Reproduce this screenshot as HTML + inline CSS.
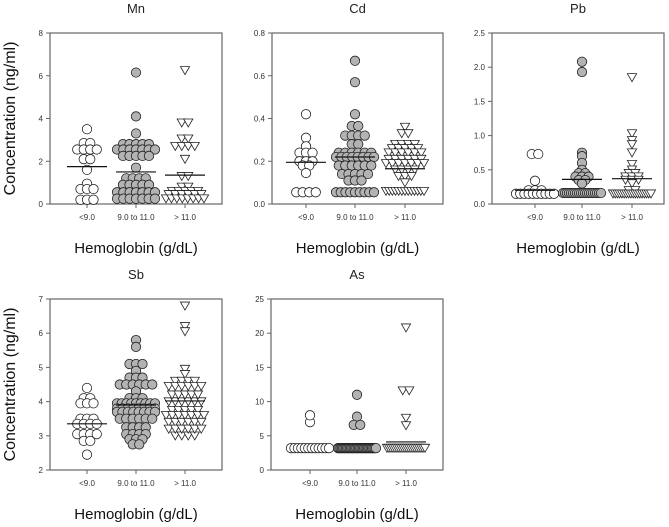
<!DOCTYPE html>
<html><head><meta charset="utf-8"><style>
body{margin:0;background:#fff;}
svg{display:block;font-family:"Liberation Sans",Arial,sans-serif;}
</style></head><body>
<svg id="chart" width="669" height="527" viewBox="0 0 669 527"></svg>
<script>
const categories = ["<9.0", "9.0 to 11.0", "> 11.0"];
const mnLow = [3.5,2.85,2.85,2.55,2.55,2.55,2.55,2.1,2.1,1.6,0.95,0.7,0.7,0.7,0.2,0.2,0.2];
const mnMid = [6.15,4.1,3.3,2.8,2.8,2.8,2.8,2.8,2.55,2.55,2.55,2.55,2.55,2.55,2.55,2.25,2.25,2.25,2.25,2.25,1.7,1.2,1.2,1.2,1.2,0.9,0.9,0.9,0.9,0.9,0.55,0.55,0.55,0.55,0.55,0.55,0.55,0.25,0.25,0.25,0.25,0.25,0.25,0.25];
const mnHigh = [6.25,3.8,3.8,3.05,3.05,2.7,2.7,2.7,2.7,2.1,1.3,1.3,0.8,0.8,0.6,0.6,0.6,0.6,0.6,0.45,0.45,0.45,0.45,0.45,0.45,0.25,0.25,0.25,0.25,0.25,0.25,0.25,0.25];
const mnMeans = [1.75,1.5,1.35];
const cdLow = [0.42,0.31,0.27,0.24,0.24,0.24,0.2,0.2,0.2,0.18,0.18,0.145,0.055,0.055,0.055,0.055];
const cdMid = [0.67,0.57,0.42,0.365,0.365,0.32,0.32,0.32,0.32,0.28,0.28,0.24,0.24,0.24,0.24,0.24,0.24,0.22,0.22,0.22,0.22,0.22,0.22,0.22,0.22,0.18,0.18,0.18,0.18,0.18,0.18,0.14,0.14,0.14,0.14,0.14,0.11,0.11,0.11,0.055,0.055,0.055,0.055,0.055,0.055,0.055,0.055,0.055];
const cdHigh = [0.36,0.33,0.33,0.28,0.28,0.28,0.28,0.26,0.26,0.26,0.26,0.26,0.24,0.24,0.24,0.24,0.24,0.24,0.21,0.21,0.21,0.21,0.21,0.21,0.19,0.19,0.19,0.19,0.19,0.19,0.19,0.16,0.16,0.16,0.16,0.13,0.13,0.13,0.1,0.06,0.06,0.06,0.06,0.06,0.06,0.06,0.06,0.06,0.06,0.06,0.06,0.06];
const cdMeans = [0.195,0.22,0.165];
const pbLow = [0.73,0.73,0.34,0.2,0.2,0.2,0.15,0.15,0.15,0.15,0.15,0.15,0.15,0.15,0.15,0.15];
const pbMid = [2.08,1.93,0.75,0.7,0.6,0.5,0.45,0.45,0.4,0.4,0.4,0.35,0.35,0.3,0.16,0.16,0.16,0.16,0.16,0.16,0.16,0.16,0.16,0.16,0.16,0.16,0.16,0.16,0.16,0.16,0.16,0.16,0.16,0.16];
const pbHigh = [1.85,1.03,0.93,0.87,0.75,0.58,0.5,0.45,0.45,0.4,0.4,0.4,0.35,0.35,0.35,0.3,0.2,0.2,0.15,0.15,0.15,0.15,0.15,0.15,0.15,0.15,0.15,0.15,0.15,0.15,0.15,0.15,0.15,0.15,0.15,0.15];
const pbMeans = [0.2,0.36,0.37];
const sbLow = [4.4,4.1,4.1,3.95,3.95,3.95,3.5,3.5,3.5,3.35,3.35,3.35,3.35,3.05,3.05,3.05,3.05,2.85,2.85,2.45];
const sbMid = [5.8,5.6,5.1,5.1,5.1,4.9,4.7,4.7,4.7,4.5,4.5,4.5,4.5,4.5,4.5,4.3,4.1,4.1,4.1,3.95,3.95,3.95,3.95,3.95,3.95,3.95,3.95,3.95,3.8,3.8,3.8,3.8,3.8,3.8,3.8,3.8,3.7,3.7,3.7,3.7,3.7,3.7,3.7,3.7,3.5,3.5,3.5,3.5,3.5,3.5,3.25,3.25,3.25,3.25,3.05,3.05,3.05,3.05,2.9,2.9,2.9,2.75,2.75];
const sbHigh = [6.8,6.2,6.05,4.95,4.8,4.6,4.6,4.6,4.6,4.45,4.45,4.45,4.45,4.45,4.45,4.2,4.2,4.2,4.2,4.2,4.0,4.0,4.0,4.0,4.0,4.0,3.75,3.75,3.75,3.75,3.75,3.6,3.6,3.6,3.6,3.6,3.6,3.6,3.4,3.4,3.4,3.4,3.4,3.4,3.2,3.2,3.2,3.2,3.2,3.2,3.0,3.0,3.0,3.0];
const sbMeans = [3.35,3.9,4.02];
const asLow = [8,7,3.2,3.2,3.2,3.2,3.2,3.2,3.2,3.2,3.2,3.2,3.2,3.2];
const asMid = [11,7.8,6.6,6.6,3.2,3.2,3.2,3.2,3.2,3.2,3.2,3.2,3.2,3.2,3.2,3.2,3.2,3.2,3.2,3.2,3.2,3.2,3.2,3.2,3.2,3.2,3.2,3.2,3.2,3.2,3.2,3.2,3.2,3.2];
const asHigh = [20.8,11.6,11.6,7.6,6.5,3.2,3.2,3.2,3.2,3.2,3.2,3.2,3.2,3.2,3.2,3.2,3.2,3.2,3.2,3.2,3.2,3.2,3.2,3.2,3.2];
const asMeans = [null,null,4.1];
const mnTicks = [0,2,4,6,8], mnTickLabels = ["0","2","4","6","8"];
const cdTicks = [0,0.2,0.4,0.6,0.8], cdTickLabels = ["0.0","0.2","0.4","0.6","0.8"];
const pbTicks = [0,0.5,1,1.5,2,2.5], pbTickLabels = ["0.0","0.5","1.0","1.5","2.0","2.5"];
const sbTicks = [2,3,4,5,6,7], sbTickLabels = ["2","3","4","5","6","7"];
const asTicks = [0,5,10,15,20,25], asTickLabels = ["0","5","10","15","20","25"];

const NS = "http://www.w3.org/2000/svg";
const svg = document.getElementById("chart");
function mk(tag, attrs, parent, text){
  const e = document.createElementNS(NS, tag);
  for (const k in attrs) e.setAttribute(k, attrs[k]);
  if (text !== undefined) e.textContent = text;
  (parent || svg).appendChild(e);
  return e;
}
function panel(p){
  const g = mk("g", {});
  
  
  const [x0,x1,y0,y1] = p.box;
  const lo = p.ticks[0], hi = p.ticks[p.ticks.length-1];
  const yS = v => y1 - (v - lo) / (hi - lo) * (y1 - y0);
  const t = mk("text", {x:(x0+x1)/2, y:y0-20, "text-anchor":"middle", "font-size":13, fill:"#222"}, g, p.title);
  
  
  const frame = mk("rect", {x:x0, y:y0, width:x1-x0, height:y1-y0, fill:"none", stroke:"#666", "stroke-width":1.2}, g);
  
  
  p.ticks.forEach((v,i)=>{
    const y = yS(v);
    mk("line", {x1:x0-4, x2:x0, y1:y, y2:y, stroke:"#666"}, g);
    const tl = mk("text", {x:x0-7, y:y+3, "text-anchor":"end", "font-size":8, fill:"#333"}, g, p.tickLabels[i]);
    
    
  });
  const groups = [p.low, p.mid, p.high];
  categories.forEach((c,i)=>{
    const cx = p.cx[i];
    mk("line", {x1:cx, x2:cx, y1:y1, y2:y1+4, stroke:"#666"}, g);
    const xl = mk("text", {x:cx, y:y1+16, "text-anchor":"middle", "font-size":8, fill:"#333"}, g, c);
    
    
    const rows = {};
    groups[i].forEach(v => { (rows[v] = rows[v] || []).push(v); });
    Object.keys(rows).forEach(k => {
      const n = rows[k].length, v = +k, y = yS(v);
      const sp = n > 1 ? Math.min(6.5, 38/(n-1)) : 0;
      rows[k].forEach((_,j) => {
        const x = cx + (j - (n-1)/2) * sp;
        let m;
        if (i === 2) {
          m = mk("path", {d:`M${x-4.6},${y-3.8}L${x+4.6},${y-3.8}L${x},${y+4.2}Z`, fill:"#fff", stroke:"#222", "stroke-width":0.8}, g);
        } else {
          m = mk("circle", {cx:x, cy:y, r:4.7, fill: i===0 ? "#fff" : "#b3b3b3", stroke:"#222", "stroke-width":0.8}, g);
        }
        
        
      });
    });
    if (p.means[i] !== null) {
      const ym = yS(p.means[i]);
      const ml = mk("line", {x1:cx-20, x2:cx+20, y1:ym, y2:ym, stroke:"#111", "stroke-width":1.2}, g);
      
      
    }
  });
  const xt = mk("text", {x:(x0+x1)/2, y:y1+49, "text-anchor":"middle", "font-size":15, fill:"#111"}, g, "Hemoglobin (g/dL)");
  
  
  if (p.ytitle) {
    const yc = (y0+y1)/2;
    const yt = mk("text", {x:15, y:yc, "text-anchor":"middle", "font-size":16, fill:"#111", transform:`rotate(-90 15 ${yc})`}, g, "Concentration (ng/ml)");
    
    
  }
}
panel({name:"mn", title:"Mn", box:[50,222,33,204], cx:[87,136,185], ticks:mnTicks, tickLabels:mnTickLabels, low:mnLow, mid:mnMid, high:mnHigh, means:mnMeans, ytitle:true});
panel({name:"cd", title:"Cd", box:[272,443,33,204], cx:[306,355,405], ticks:cdTicks, tickLabels:cdTickLabels, low:cdLow, mid:cdMid, high:cdHigh, means:cdMeans});
panel({name:"pb", title:"Pb", box:[492,664,33,204], cx:[535,582,632], ticks:pbTicks, tickLabels:pbTickLabels, low:pbLow, mid:pbMid, high:pbHigh, means:pbMeans});
panel({name:"sb", title:"Sb", box:[50,222,299,470], cx:[87,136,185], ticks:sbTicks, tickLabels:sbTickLabels, low:sbLow, mid:sbMid, high:sbHigh, means:sbMeans, ytitle:true});
panel({name:"as", title:"As", box:[271,443,299,470], cx:[310,357,406], ticks:asTicks, tickLabels:asTickLabels, low:asLow, mid:asMid, high:asHigh, means:asMeans});
</script>
</body></html>
